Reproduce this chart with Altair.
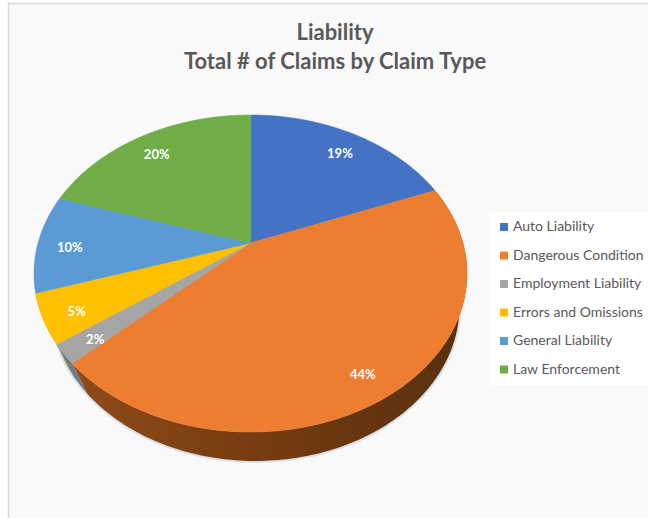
import numpy as np
import altair as alt

# Claim shares, clockwise from twelve o'clock
categories = ["Auto Liability", "Dangerous Condition", "Employment Liability",
              "Errors and Omissions", "General Liability", "Law Enforcement"]
shares = [19, 44, 2, 5, 10, 20]
slice_colors = ["#4472C4", "#ED7D31", "#A5A5A5", "#FFC000", "#5B9BD5", "#70AD47"]
title_lines = ["Liability", "Total # of Claims by Claim Type"]

# Tilted disc: top face and bottom rim as ellipses, with the apex pushed back by perspective
CX, CY, RX, RY = 250.5, 273.5, 216.5, 158.5
BOTTOM_DX, BOTTOM_CY, BOTTOM_RX, BOTTOM_RY = 5.0, 306.0, 204.0, 155.0
TILT = -0.192


def disc_to_plane(fraction, radius=1.0):
    """Project a point of the flat pie (share of the turn, radius) to normalised ellipse space."""
    a = 2 * np.pi * np.asarray(fraction, dtype=float)
    x, y = radius * np.sin(a), -radius * np.cos(a)
    den = 1 + TILT * y
    return x * np.sqrt(1 - TILT ** 2) / den, (y + TILT) / den


def arc(start, stop, rim="top"):
    f = np.linspace(start, stop, max(int((stop - start) * 360), 2) + 1)
    u, v = disc_to_plane(f)
    if rim == "top":
        return np.column_stack([RX * u, RY * v])
    return np.column_stack([BOTTOM_DX + BOTTOM_RX * u, BOTTOM_CY - CY + BOTTOM_RY * v])


def feature(points, name):
    ring = [[float(px), float(py)] for px, py in points]
    ring.append(ring[0])
    return {"type": "Feature", "properties": {"name": name},
            "geometry": {"type": "Polygon", "coordinates": [ring]}}


edges = np.cumsum([0] + shares) / sum(shares)
apex = disc_to_plane(0.0, 0.0)
apex_xy = np.array([[RX * apex[0], RY * apex[1]]])

top_faces = [feature(np.vstack([apex_xy, arc(edges[i], edges[i + 1])]), categories[i])
             for i in range(len(categories))]


def wall(i):
    return [feature(np.vstack([arc(edges[i], edges[i + 1]),
                               arc(edges[i], edges[i + 1], "bottom")[::-1]]), categories[i])]


label_rows = []
for i, share in enumerate(shares):
    u, v = disc_to_plane((edges[i] + edges[i + 1]) / 2, 0.85)
    label_rows.append({"lx": CX + RX * u, "ly": CY + RY * v + 5, "label": f"{share}%"})

geo = dict(type="identity", scale=1, translate=[CX, CY])

backdrop = alt.Chart(alt.Data(values=[{"k": 0}])).mark_rect(
    fill="#F9F9F9", stroke="#D9D9D9", strokeWidth=1.5
).encode(x=alt.value(8.5), x2=alt.value(700), y=alt.value(3.5), y2=alt.value(600))

# Faint soft edge around the lower rim of the disc
rim_shadow = alt.Chart(alt.Data(values=[feature(arc(0, 1, "bottom"), "rim")])).mark_geoshape(
    filled=False, stroke="#C6D3DE", strokeWidth=4, opacity=0.6
).project(**geo)

brown = alt.LinearGradient(
    gradient="linear", x1=0, y1=0, x2=1, y2=0,
    stops=[alt.GradientStop(offset=0, color="#8F4B1A"),
           alt.GradientStop(offset=0.45, color="#783C10"),
           alt.GradientStop(offset=1, color="#56300F")],
)
orange_wall = alt.Chart(alt.Data(values=wall(1))).mark_geoshape(fill=brown).project(**geo)
grey_wall = alt.Chart(alt.Data(values=wall(2))).mark_geoshape(fill="#6F7C87").project(**geo)
yellow_wall = alt.Chart(alt.Data(values=wall(3))).mark_geoshape(fill="#A98600").project(**geo)

faces = alt.Chart(alt.Data(values=top_faces)).mark_geoshape(strokeWidth=0.6).encode(
    color=alt.Color(
        "properties.name:N",
        scale=alt.Scale(domain=categories, range=slice_colors),
        legend=alt.Legend(
            title=None, orient="none", legendX=489, legendY=212,
            symbolType="square", symbolSize=64, symbolStrokeWidth=0,
            labelFont="Lato", labelFontSize=14, labelColor="#595959", labelLimit=150,
            labelOffset=2, rowPadding=14.5, fillColor="white", padding=8, values=categories,
        ),
    ),
    stroke=alt.Stroke("properties.name:N", scale=alt.Scale(domain=categories, range=slice_colors), legend=None),
).project(**geo)

labels = alt.Chart(alt.Data(values=label_rows)).mark_text(
    color="white", font="Lato", fontWeight="bold", fontSize=13
).encode(x=alt.X("lx:Q", scale=None), y=alt.Y("ly:Q", scale=None), text="label:N")

chart = alt.layer(backdrop, rim_shadow, grey_wall, yellow_wall, orange_wall, faces, labels).properties(
    width=648, height=518, padding=0, background="white",
    autosize=alt.AutoSizeParams(type="none"),
    title=alt.TitleParams(
        text=title_lines, font="Lato", fontSize=22, fontWeight="bold", color="#595959",
        anchor="start", align="center", dx=335, dy=78, lineHeight=29,
    ),
).configure_view(stroke=None)

chart.save("out.html", embed_options={"renderer": "svg", "actions": False})
